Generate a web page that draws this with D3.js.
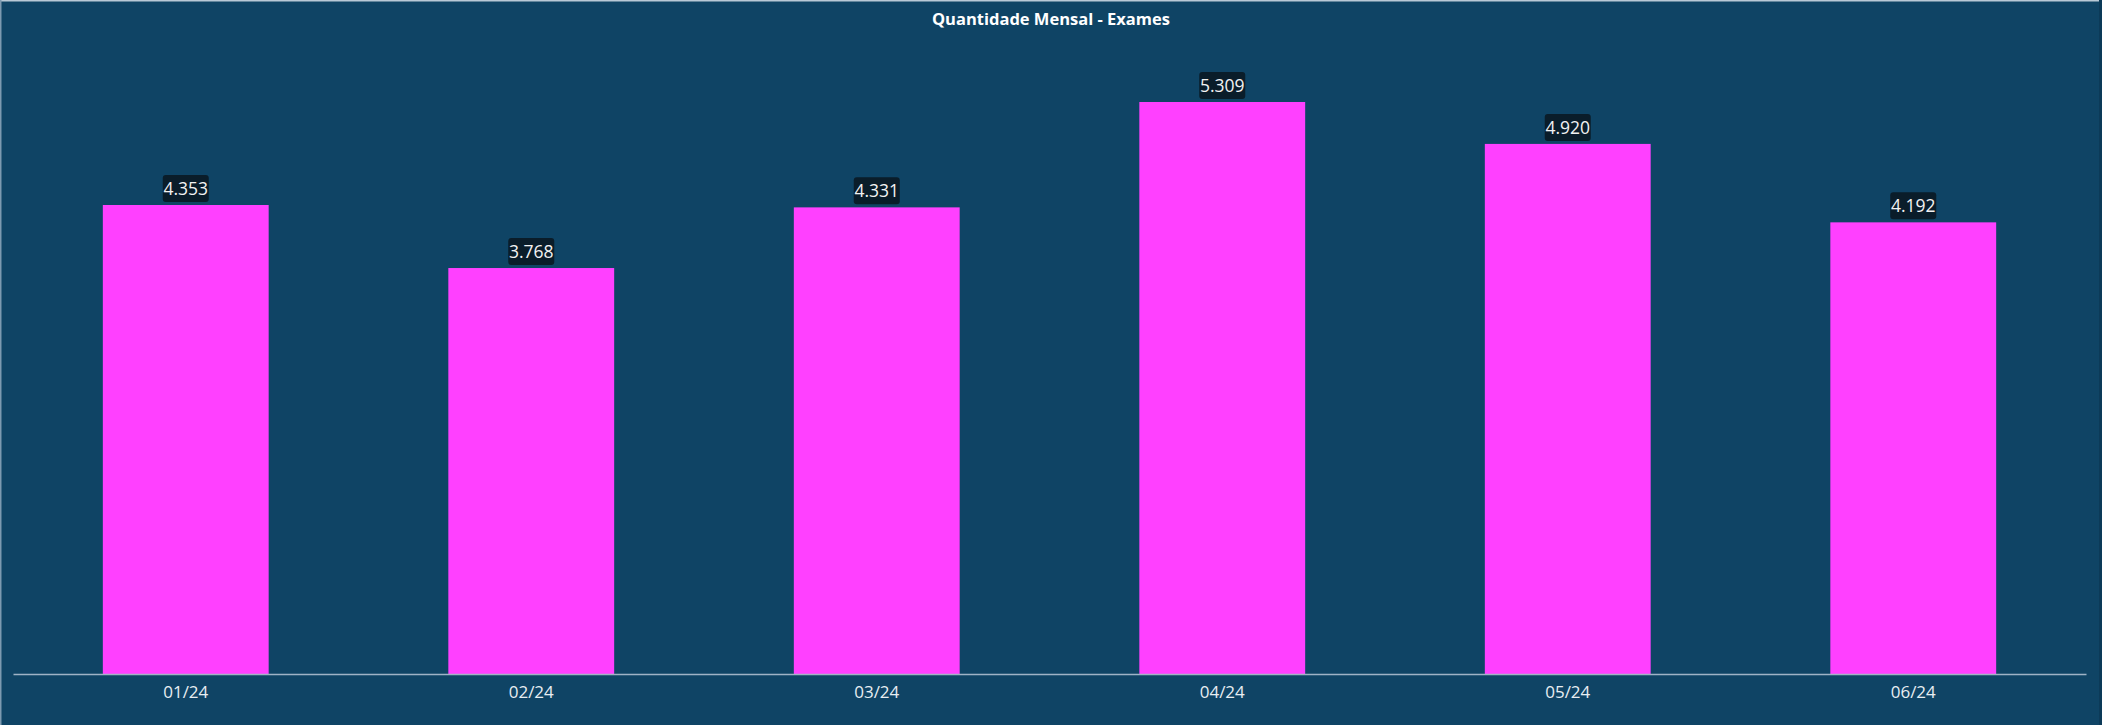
<!DOCTYPE html>
<meta charset="utf-8">
<style>
 body { margin: 0; background: #0f4465; }
 svg { display: block; font-family: "Segoe UI", "Open Sans", sans-serif; }
</style>
<script src="https://d3js.org/d3.v7.min.js"></script>
<svg width="2102" height="725"></svg>
<script>
const months = ['01/24', '02/24', '03/24', '04/24', '05/24', '06/24'];
const exames = [4353, 3768, 4331, 5309, 4920, 4192];
const labels = ['4.353', '3.768', '4.331', '5.309', '4.920', '4.192'];

const svg = d3.select('svg');
const W = 2102, H = 725;
const bottom = 674, left = 13, right = 2086;

svg.append('rect').attr('width', W).attr('height', H).attr('fill', '#0f4465');
// thin frame: light at top / left, darker at right
svg.append('rect').attr('width', W).attr('height', 1.5).attr('fill', '#b9c9d6');
svg.append('rect').attr('width', 1.5).attr('height', H).attr('fill', '#7d9ab0');
svg.append('rect').attr('x', W - 3).attr('width', 3).attr('height', H).attr('fill', '#0c3a58');

svg.append('text')
	.attr('x', 1051).attr('y', 25)
	.attr('text-anchor', 'middle')
	.attr('fill', '#ffffff')
	.attr('font-weight', 'bold')
	.attr('font-size', 16.5)
	.text('Quantidade Mensal - Exames');

const x = d3.scaleBand()
	.domain(months)
	.range([left, right])
	.paddingInner(0.52)
	.paddingOuter(0.26);

const y = d3.scaleLinear()
	.domain([0, 5309])
	.range([bottom, 102]);

svg.selectAll('.bar')
	.data(exames)
	.enter().append('rect')
	.attr('class', 'bar')
	.attr('x', (d, i) => x(months[i]))
	.attr('width', x.bandwidth())
	.attr('y', d => y(d))
	.attr('height', d => bottom - y(d))
	.attr('fill', '#ff40ff');

const xAxis = svg.append('g')
	.attr('transform', `translate(0,${bottom})`)
	.call(d3.axisBottom(x).tickSize(0).tickPadding(12));
xAxis.select('.domain').attr('stroke', '#9fb3c6').attr('stroke-width', 1.5);
xAxis.selectAll('text')
	.attr('fill', '#e8eef2')
	.attr('font-size', 17)
	.attr('font-family', '"Segoe UI", "Open Sans", sans-serif');

const lab = svg.selectAll('.lab')
	.data(exames)
	.enter().append('g')
	.attr('class', 'lab')
	.attr('transform', (d, i) => `translate(${x(months[i]) + x.bandwidth() / 2},${y(d) - 2})`);

lab.append('rect')
	.attr('x', -23).attr('y', -28)
	.attr('width', 46).attr('height', 27)
	.attr('rx', 3)
	.attr('fill', '#0a1d2a');

lab.append('text')
	.attr('text-anchor', 'middle')
	.attr('y', -8)
	.attr('fill', '#f2f2f2')
	.attr('font-size', 17.5)
	.text((d, i) => labels[i]);
</script>
